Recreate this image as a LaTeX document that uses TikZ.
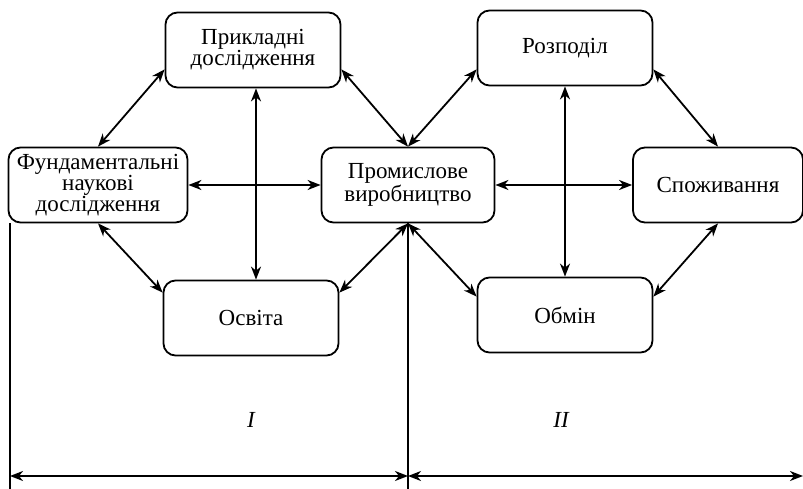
\documentclass[tikz,border=0pt]{standalone}
\usepackage{fontspec}
\setmainfont{Liberation Serif}
\usepackage{tikz}
\usetikzlibrary{arrows.meta}
\tikzset{>={Stealth[width=10pt,length=13pt,inset=4pt]}}
\tikzset{
  blok/.style={draw, line width=1.8pt, rounded corners=12pt, minimum width=175pt,
    minimum height=75pt, inner sep=0pt, align=center,
    font=\fontsize{23}{18}\selectfont},
  zvyaz/.style={<->, line width=1.8pt},
}

\begin{document}
\begin{tikzpicture}[x=1pt,y=-1pt]

  \useasboundingbox (0,0) rectangle (803,489);

  %% blocks
  \node[blok] (prykl) at (253,50) {Прикладні\\дослідження};
  \node[blok, minimum width=179pt] (fund) at (98,185) {Фундаментальні\\наукові\\дослідження};
  \node[blok] (osvita) at (251,318) {Освіта};
  \node[blok, minimum width=173pt] (prom) at (408,185) {Промислове\\виробництво};
  \node[blok] (rozp) at (565,48) {Розподіл};
  \node[blok, minimum width=170pt] (spoz) at (718,185) {Споживання};
  \node[blok] (obmin) at (565,315) {Обмін};

  %% left ring
  \draw[zvyaz] ([yshift=19pt]prykl.south west) -- (fund.north);
  \draw[zvyaz] ([yshift=19pt]prykl.south east) -- (prom.north);
  \draw[zvyaz] (fund.south) -- ([yshift=-13pt]osvita.north west);
  \draw[zvyaz] ([yshift=-13pt]osvita.north east) -- (prom.south);
  \draw[zvyaz] ([xshift=3pt]prykl.south) -- ([xshift=5pt]osvita.north);
  \draw[zvyaz] (fund.east) -- (prom.west);

  %% right ring
  \draw[zvyaz] (prom.north) -- ([yshift=17pt]rozp.south west);
  \draw[zvyaz] ([yshift=17pt]rozp.south east) -- (spoz.north);
  \draw[zvyaz] (prom.south) -- ([yshift=-20pt]obmin.north west);
  \draw[zvyaz] ([yshift=-20pt]obmin.north east) -- (spoz.south);
  \draw[zvyaz] (rozp.south) -- (obmin.north);
  \draw[zvyaz] (prom.east) -- (spoz.west);

  %% bottom scale
  \coordinate (kin) at (803,476);
  \draw[line width=1.5pt] ([xshift=-88pt]fund.south) -- ([xshift=-88pt]fund.south |- 0,489) coordinate (liva);
  \draw[line width=1.5pt] (prom.south) -- (prom.south |- 0,489) coordinate (seredn);
  \draw[zvyaz] (liva |- kin) -- (seredn |- kin);
  \draw[zvyaz] (seredn |- kin) -- (kin);
  \node[font=\fontsize{23}{18}\selectfont\itshape] (persh) at (251,420) {I};
  \node[font=\fontsize{23}{18}\selectfont\itshape] (druh) at (561,420) {II};

\end{tikzpicture}
\end{document}
